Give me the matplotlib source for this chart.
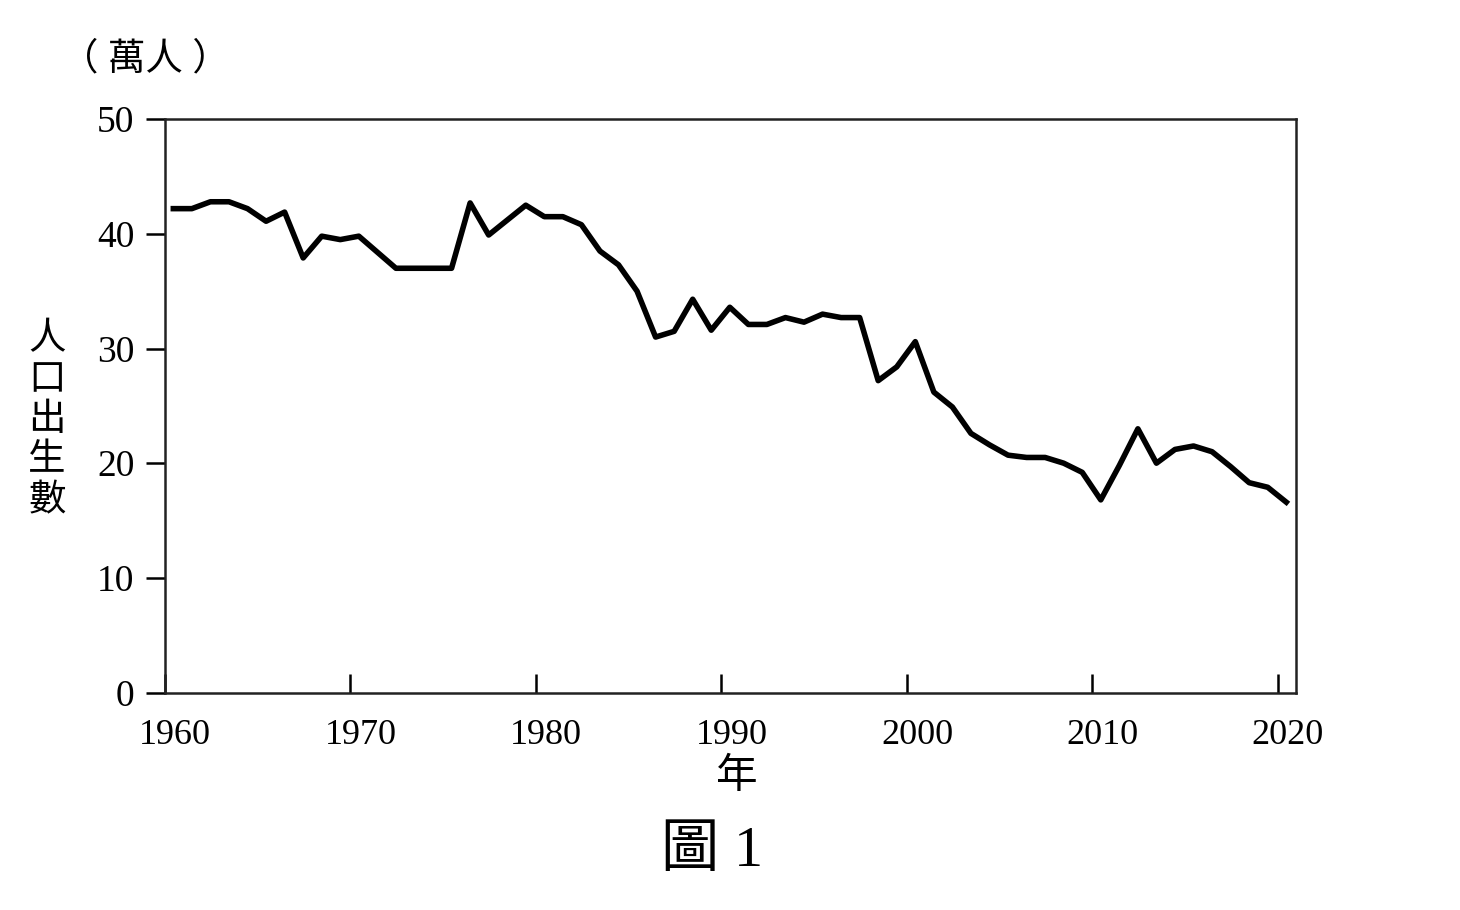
import numpy as np
import matplotlib
matplotlib.use("Agg")
import matplotlib.pyplot as plt
import matplotlib.transforms as mtransforms

plt.rcParams['font.family'] = ['Liberation Serif', 'Noto Sans CJK TC', 'DejaVu Sans']

# births per year, in units of 10,000
years = np.arange(1960, 2021)
births = [
    42.2, 42.2, 42.8, 42.8, 42.2, 41.1, 41.9, 37.9, 39.8, 39.5,
    39.8, 38.4, 37.0, 37.0, 37.0, 37.0, 42.7, 39.9, 41.2, 42.5,
    41.5, 41.5, 40.8, 38.5, 37.3, 35.0, 31.0, 31.5, 34.3, 31.6,
    33.6, 32.1, 32.1, 32.7, 32.3, 33.0, 32.7, 32.7, 27.2, 28.4,
    30.6, 26.2, 24.9, 22.6, 21.6, 20.7, 20.5, 20.5, 20.0, 19.2,
    16.8, 19.8, 23.0, 20.0, 21.2, 21.5, 21.0, 19.7, 18.3, 17.9,
    16.6,
]
x_ticks = [1960, 1970, 1980, 1990, 2000, 2010, 2020]
y_ticks = [0, 10, 20, 30, 40, 50]

fig = plt.figure(figsize=(14.6, 9.1), dpi=100)
ax = fig.add_axes([0.113, 0.239, 0.775, 0.630])

# each year is drawn at mid-year
ax.plot(years + 0.45, births, color="black", linewidth=4.0, solid_joinstyle="round")

ax.set_xlim(1960, 2021)
ax.set_ylim(0, 50)
ax.set_xticks(x_ticks)
ax.set_yticks(y_ticks)

for side in ["left", "right", "top", "bottom"]:
    ax.spines[side].set_linewidth(1.8)
    ax.spines[side].set_color("#222222")

ax.tick_params(axis="x", direction="in", length=14, width=1.8, pad=19, labelsize=26)
ax.tick_params(axis="y", direction="out", length=14, width=1.8, pad=8, labelsize=27)

# the year labels sit a little to the right of their ticks in the original
shift = mtransforms.ScaledTranslation(10 / 100, 0, fig.dpi_scale_trans)
for lab in ax.get_xticklabels():
    lab.set_transform(lab.get_transform() + shift)

fig.text(47 / 1460, 1 - 421 / 910, "\n".join("人口出生數"), fontsize=27,
         ha="center", va="center", linespacing=1.22)
fig.text(145 / 1460, 1 - 60 / 910, "（ 萬人 ）", fontsize=27, ha="center", va="center")
fig.text(737 / 1460, 1 - 778 / 910, "年", fontsize=30, ha="center", va="center")
fig.text(712 / 1460, 1 - 852 / 910, "圖 1", fontsize=42, ha="center", va="center")

fig.savefig("out.png", dpi=100)
